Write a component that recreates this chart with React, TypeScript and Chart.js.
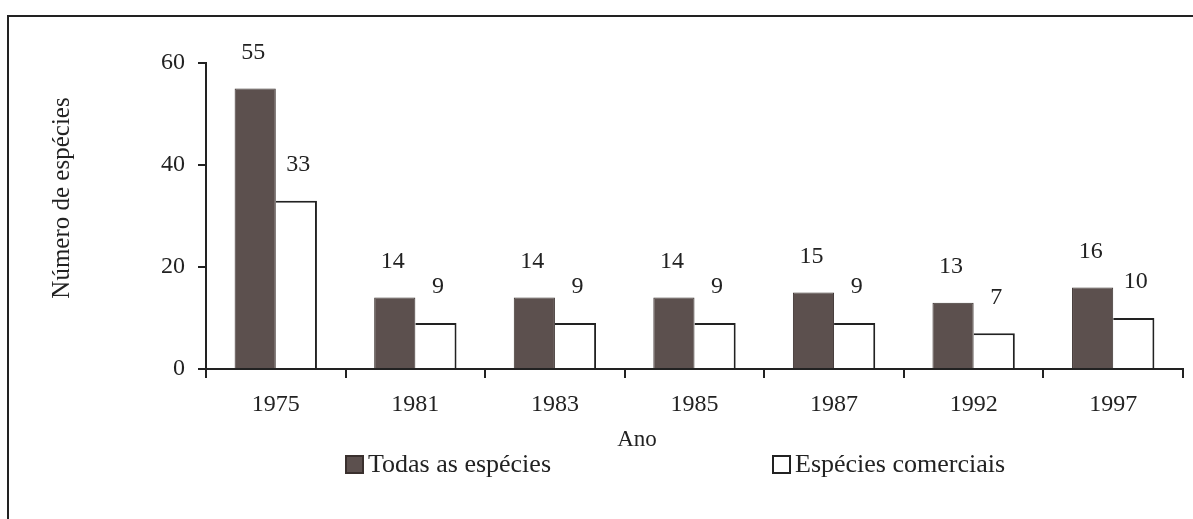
import React, { useEffect, useRef } from "react";
import { Chart, registerables } from "chart.js";

Chart.register(...registerables);

const years = ["1975", "1981", "1983", "1985", "1987", "1992", "1997"];
const todasEspecies = [55, 14, 14, 14, 15, 13, 16];
const especiesComerciais = [33, 9, 9, 9, 9, 7, 10];
const seriesNames = ["Todas as espécies", "Espécies comerciais"];
const yTitle = "Número de espécies";
const xTitle = "Ano";

const FONT = '"Liberation Serif", "Times New Roman", Times, serif';
const INK = "#222222";
const DARK = "#5c504e";

const W = 1193;
const H = 519;

const decorPlugin = {
  id: "decor",
  afterDraw(chart: any) {
    const ctx = chart.ctx as CanvasRenderingContext2D;
    ctx.save();
    // frame (top and left)
    ctx.strokeStyle = INK;
    ctx.lineWidth = 2;
    ctx.beginPath();
    ctx.moveTo(8, H);
    ctx.lineTo(8, 16);
    ctx.lineTo(W, 16);
    ctx.stroke();

    // value labels
    ctx.fillStyle = INK;
    ctx.font = `24px ${FONT}`;
    ctx.textAlign = "center";
    ctx.textBaseline = "middle";
    chart.data.datasets.forEach((ds: any, di: number) => {
      const meta = chart.getDatasetMeta(di);
      meta.data.forEach((el: any, i: number) => {
        const dx = di === 0 ? -2 : 2;
        ctx.fillText(String(ds.data[i]), el.x + dx, el.y - 36);
      });
    });

    // y title
    ctx.save();
    ctx.translate(62, 198);
    ctx.rotate(-Math.PI / 2);
    ctx.font = `25px ${FONT}`;
    ctx.fillText(yTitle, 0, 0);
    ctx.restore();

    // x title
    ctx.font = `23px ${FONT}`;
    ctx.fillText(xTitle, 637, 440);

    // legend
    ctx.textAlign = "left";
    ctx.font = `26px ${FONT}`;
    const items = [
      { x: 346, fill: DARK, stroke: "#3a302e" },
      { x: 773, fill: "#ffffff", stroke: INK },
    ];
    items.forEach((it, k) => {
      ctx.fillStyle = it.fill;
      ctx.fillRect(it.x, 456, 17, 17);
      ctx.strokeStyle = it.stroke;
      ctx.lineWidth = 2;
      ctx.strokeRect(it.x, 456, 17, 17);
      ctx.fillStyle = INK;
      ctx.fillText(seriesNames[k], it.x + 22, 465);
    });
    ctx.restore();
  },
};

export default function App() {
  const ref = useRef<HTMLCanvasElement | null>(null);

  useEffect(() => {
    document.body.style.margin = "0";
    const canvas = ref.current;
    if (!canvas) return;
    const chart = new Chart(canvas, {
      type: "bar",
      data: {
        labels: years,
        datasets: [
          {
            label: seriesNames[0],
            data: todasEspecies,
            backgroundColor: DARK,
            borderColor: "#3a302e",
            borderWidth: 1,
            categoryPercentage: 0.59,
            barPercentage: 1,
          },
          {
            label: seriesNames[1],
            data: especiesComerciais,
            backgroundColor: "#ffffff",
            borderColor: INK,
            borderWidth: { top: 2, left: 0, right: 2, bottom: 0 },
            categoryPercentage: 0.59,
            barPercentage: 1,
          },
        ],
      },
      options: {
        responsive: false,
        animation: false,
        layout: { padding: { top: 63, right: 10, left: 0, bottom: 0 } },
        plugins: {
          legend: { display: false },
          tooltip: { enabled: false },
          title: { display: false },
        },
        scales: {
          y: {
            min: 0,
            max: 60,
            ticks: {
              stepSize: 20,
              color: INK,
              padding: 13,
              font: { family: FONT, size: 24 },
            },
            grid: {
              display: true,
              drawOnChartArea: false,
              drawTicks: true,
              tickLength: 8,
              color: INK,
              lineWidth: 2,
            },
            border: { display: true, color: INK, width: 2 },
            afterFit: (s: any) => {
              s.width = 206;
            },
          },
          x: {
            ticks: {
              color: INK,
              padding: 12,
              font: { family: FONT, size: 24 },
            },
            grid: {
              display: true,
              offset: true,
              drawOnChartArea: false,
              drawTicks: true,
              tickLength: 9,
              color: INK,
              lineWidth: 2,
            },
            border: { display: true, color: INK, width: 2 },
            afterFit: (s: any) => {
              s.height = H - 369;
            },
          },
        },
      },
      plugins: [decorPlugin],
    });
    return () => chart.destroy();
  }, []);

  return (
    <div style={{ width: W, height: H, background: "#ffffff" }}>
      <canvas ref={ref} width={W} height={H} style={{ display: "block" }} />
    </div>
  );
}
